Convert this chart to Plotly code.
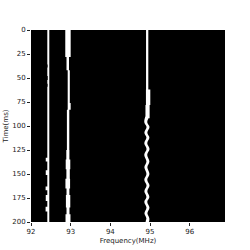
import plotly.graph_objects as go

# ---- data ----
X_TICKS = [92, 93, 94, 95, 96]
Y_TICKS = [0, 25, 50, 75, 100, 125, 150, 175, 200]
X_RANGE = [92.0, 96.89]
Y_RANGE = [200, 0]

# white blocks: (t_start, t_end, f_left, f_right)
LINE1_BLOCKS = [
    (0, 200, 92.411, 92.461),
    (133, 137, 92.372, 92.42),
    (146, 151, 92.372, 92.42),
    (163, 167, 92.368, 92.42),
    (172, 178, 92.372, 92.42),
    (184, 189, 92.368, 92.42),
]
LINE1_NOTCHES = [
    (36, 39, 92.411, 92.425),
    (48, 52, 92.411, 92.428),
    (56, 59, 92.411, 92.425),
]
LINE2_BLOCKS = [
    (0, 28, 92.864, 93.0),
    (28, 42, 92.895, 92.958),
    (42, 76, 92.925, 92.978),
    (76, 83, 92.925, 93.0),
    (83, 125, 92.905, 92.965),
    (125, 135, 92.89, 92.968),
    (135, 145, 92.875, 92.99),
    (145, 155, 92.892, 92.978),
    (155, 165, 92.868, 92.985),
    (165, 172, 92.895, 92.968),
    (172, 185, 92.88, 92.99),
    (185, 192, 92.895, 92.97),
    (192, 200, 92.87, 92.995),
]
LINE3_BLOCKS = [
    (0, 62, 94.9, 94.957),
    (62, 78, 94.897, 95.007),
    (78, 92, 94.885, 94.99),
]
LINE3_T = [90, 96, 101, 107, 112, 118, 124, 130, 137, 143, 150, 156, 162, 168, 174, 179, 185, 191, 196, 200]
LINE3_C = [94.93, 94.893, 94.95, 94.895, 94.947, 94.893, 94.95, 94.892, 94.947, 94.895,
           94.948, 94.893, 94.95, 94.895, 94.947, 94.894, 94.948, 94.897, 94.945, 94.93]
LINE3_W = 0.075


def blocks_path(blocks):
    xs, ys = [], []
    for t0, t1, fl, fr in blocks:
        xs += [fl, fr, fr, fl, fl, None]
        ys += [t0, t0, t1, t1, t0, None]
    return xs, ys


fig = go.Figure()

for blocks, col in [(LINE1_BLOCKS, "white"), (LINE1_NOTCHES, "black"),
                    (LINE2_BLOCKS, "white"), (LINE3_BLOCKS, "white")]:
    xs, ys = blocks_path(blocks)
    fig.add_trace(go.Scatter(x=xs, y=ys, mode="lines", fill="toself",
                             fillcolor=col, line=dict(width=0, color=col),
                             hoverinfo="skip", showlegend=False))

left = [c - LINE3_W / 2 for c in LINE3_C]
right = [c + LINE3_W / 2 for c in LINE3_C]
fig.add_trace(go.Scatter(x=left + right[::-1] + [left[0]],
                         y=LINE3_T + LINE3_T[::-1] + [LINE3_T[0]],
                         mode="lines", fill="toself", fillcolor="white",
                         line=dict(width=0, color="white", shape="spline"),
                         hoverinfo="skip", showlegend=False))

axis_font = dict(family="DejaVu Sans", size=7, color="#222")
fig.update_layout(
    width=250, height=250,
    margin=dict(l=31, r=25, t=30, b=28, autoexpand=False),
    paper_bgcolor="white", plot_bgcolor="black",
    font=axis_font,
    xaxis=dict(range=X_RANGE, tickvals=X_TICKS, ticks="outside", ticklen=3,
               tickwidth=0.8, tickcolor="#222", showgrid=False, zeroline=False,
               automargin=False,
               title=dict(text="Frequency(MHz)", font=axis_font, standoff=2),
               tickfont=axis_font, showline=False),
    yaxis=dict(range=Y_RANGE, tickvals=Y_TICKS, ticks="outside", ticklen=3,
               tickwidth=0.8, tickcolor="#222", showgrid=False, zeroline=False,
               automargin=False,
               title=dict(text="Time(ms)", font=axis_font, standoff=2),
               tickfont=axis_font, showline=False),
)

fig.write_html("out.html", config={"displayModeBar": False},
               post_script="document.body.style.margin='0';document.body.style.overflow='hidden';")
